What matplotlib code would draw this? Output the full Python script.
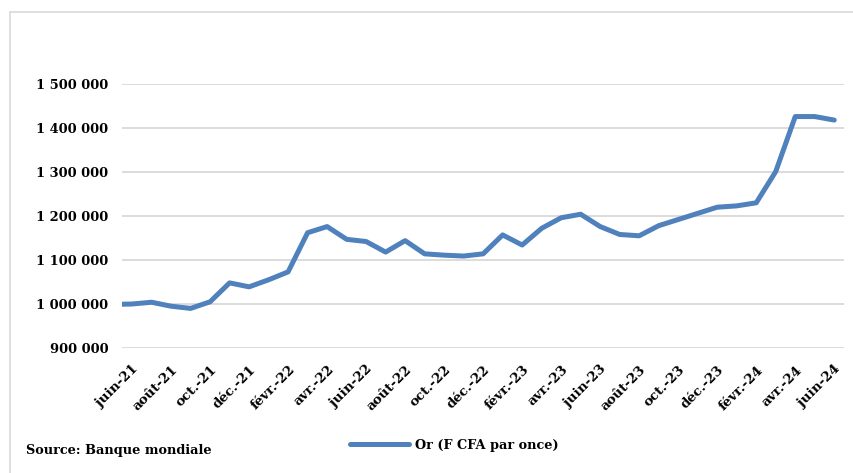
import matplotlib
matplotlib.use('Agg')
import matplotlib.pyplot as plt
from matplotlib.patches import Rectangle

plt.rcParams.update({'font.family': 'DejaVu Serif', 'font.weight': 'bold'})

# monthly gold price, F CFA per ounce (mai-21 .. juin-24; the first point sits
# just left of the plot edge, as in the original)
months = ['mai-21', 'juin-21', 'juil.-21', 'août-21', 'sept.-21', 'oct.-21', 'nov.-21', 'déc.-21',
          'janv.-22', 'févr.-22', 'mars-22', 'avr.-22', 'mai-22', 'juin-22', 'juil.-22', 'août-22',
          'sept.-22', 'oct.-22', 'nov.-22', 'déc.-22', 'janv.-23', 'févr.-23', 'mars-23', 'avr.-23',
          'mai-23', 'juin-23', 'juil.-23', 'août-23', 'sept.-23', 'oct.-23', 'nov.-23', 'déc.-23',
          'janv.-24', 'févr.-24', 'mars-24', 'avr.-24', 'mai-24', 'juin-24']
gold = [999000, 1000000, 1004000, 995000, 990000, 1005000, 1048000, 1039000,
        1055000, 1073000, 1162000, 1176000, 1147000, 1142000, 1118000, 1144000,
        1114000, 1111000, 1109000, 1114000, 1157000, 1134000, 1172000, 1196000,
        1204000, 1176000, 1158000, 1155000, 1178000, 1192000, 1206000, 1220000,
        1223000, 1230000, 1301000, 1426000, 1426000, 1418000]
yticks = [900000, 1000000, 1100000, 1200000, 1300000, 1400000, 1500000]
series_name = 'Or (F CFA par once)'
source = 'Source: Banque mondiale'

x = list(range(-1, len(months) - 1))

fig = plt.figure(figsize=(8.54, 4.73), dpi=100)
ax = fig.add_axes([122.3 / 854, 125 / 473, (844 - 122.3) / 854, 264 / 473])

# outer chart border
fig.patches.append(Rectangle((10 / 854, -0.1), 1.0, (473 - 12) / 473 + 0.1,
                             transform=fig.transFigure, fill=False,
                             edgecolor='#D9D9D9', linewidth=1.2))

line, = ax.plot(x, gold, color='#4F81BD', linewidth=3.6, solid_capstyle='round',
                solid_joinstyle='round', label=series_name)

ax.set_xlim(-0.5, 36.5)
ax.set_ylim(900000, 1500000)
ax.set_yticks(yticks)
ax.set_yticklabels([f'{v:,}'.replace(',', ' ') for v in yticks], fontsize=9.4, fontweight='bold')
ax.grid(axis='y', color='#D9D9D9', linewidth=1.3)
ax.set_axisbelow(True)

tick_pos = x[1::2]
ax.set_xticks(tick_pos)
ax.set_xticklabels(months[1::2], rotation=45, ha='right', va='top',
                   rotation_mode='anchor', fontsize=9.6, fontweight='bold')
ax.tick_params(axis='both', length=0)
ax.tick_params(axis='x', pad=11)
ax.tick_params(axis='y', pad=10)
for s in ax.spines.values():
    s.set_visible(False)

fig.legend(handles=[line], loc='center left', bbox_to_anchor=(338 / 854, 1 - 445 / 473),
           frameon=False, prop={'family': 'DejaVu Serif', 'weight': 'bold', 'size': 9.3},
           handlelength=4.6, handletextpad=0.5)
fig.text(26 / 854, 1 - 450 / 473, source, fontsize=9.3, fontweight='bold', va='center', ha='left')

fig.savefig('out.png', dpi=100)
